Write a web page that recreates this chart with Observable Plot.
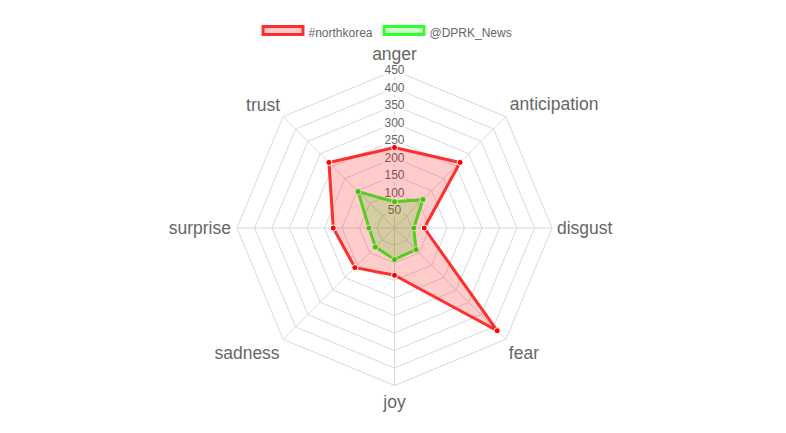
<!DOCTYPE html>
<html>
<head>
<meta charset="utf-8">
<script src="https://cdn.jsdelivr.net/npm/d3@7"></script>
<script src="https://cdn.jsdelivr.net/npm/@observablehq/plot@0.6"></script>
<style>
  html, body { margin: 0; padding: 0; background: #fff; }
  #wrap { position: relative; width: 786px; height: 433px; font-family: "Liberation Sans", Arial, sans-serif; }
  #legend { position: absolute; left: 0; top: 0; }
  #chart { position: absolute; left: 0; top: 0; }
</style>
</head>
<body>
<div id="wrap">
  <div id="chart"></div>
  <svg id="legend" width="786" height="45"></svg>
</div>
<script>
const categories = ["anger", "anticipation", "disgust", "fear", "joy", "sadness", "surprise", "trust"];
const northkorea = [230, 265, 85, 415, 135, 160, 175, 265];
const dprkNews = [75, 115, 55, 87, 90, 77, 73, 147];
const tickValues = [50, 100, 150, 200, 250, 300, 350, 400, 450];
const seriesNames = ["#northkorea", "@DPRK_News"];
const maxValue = 450;

const n = categories.length;
const ang = i => (i / n) * 2 * Math.PI;
const px = (i, r) => r * Math.sin(ang(i));
const py = (i, r) => r * Math.cos(ang(i));

// grid rings
const ringData = [];
for (const t of tickValues) {
  for (let i = 0; i <= n; i++) ringData.push({ring: t, x: px(i % n, t), y: py(i % n, t)});
}
const spokes = categories.map((c, i) => ({x1: 0, y1: 0, x2: px(i, maxValue), y2: py(i, maxValue)}));

const toPts = vals => vals.map((v, i) => ({cat: categories[i], x: px(i, v), y: py(i, v)}));
const nkPts = toPts(northkorea);
const dpPts = toPts(dprkNews);

const FONT = "'Liberation Sans', Arial, sans-serif";
const labelCfg = [
  {anchor: "middle", dx: 0, dy: -11},
  {anchor: "start", dx: 4, dy: -7},
  {anchor: "start", dx: 5, dy: 6},
  {anchor: "start", dx: 3, dy: 20},
  {anchor: "middle", dx: 0, dy: 22},
  {anchor: "end", dx: -3.5, dy: 20},
  {anchor: "end", dx: -6, dy: 6},
  {anchor: "end", dx: -3, dy: -6}
];
const labelMarks = categories.map((c, i) => Plot.text([c], {
  x: () => px(i, maxValue), y: () => py(i, maxValue), text: d => d,
  textAnchor: labelCfg[i].anchor, dx: labelCfg[i].dx, dy: labelCfg[i].dy,
  lineAnchor: "bottom", fontSize: 17.5, fill: "#666", fontFamily: FONT
}));

const cx = 394, cy = 227.5, R = 157.5;
const chart = Plot.plot({
  width: 786, height: 433, margin: 0,
  x: {type: "linear", domain: [-maxValue, maxValue], range: [cx - R, cx + R], axis: null},
  y: {type: "linear", domain: [-maxValue, maxValue], range: [cy + R, cy - R], axis: null},
  style: {fontFamily: FONT, background: "white"},
  marks: [
    Plot.line(ringData, {x: "x", y: "y", z: "ring", stroke: "#d9d9d9", strokeWidth: 1}),
    Plot.link(spokes, {x1: "x1", y1: "y1", x2: "x2", y2: "y2", stroke: "#d9d9d9", strokeWidth: 1}),
    Plot.text(tickValues, {x: 0, y: d => d, text: d => String(d), fontSize: 12, fill: "#666",
      stroke: "white", strokeOpacity: 0.85, strokeWidth: 6, strokeLinejoin: "round", fontFamily: FONT}),
    ...labelMarks,
    // @DPRK_News first (underneath)
    Plot.line(dpPts, {x: "x", y: "y", curve: "linear-closed", fill: "rgb(0,255,0)", fillOpacity: 0.2, stroke: "rgb(0,255,0)", strokeOpacity: 0.8, strokeWidth: 3, strokeLinejoin: "miter"}),
    Plot.dot(dpPts, {x: "x", y: "y", r: 3, fill: "rgb(0,255,0)", stroke: "white", strokeWidth: 1}),
    // #northkorea on top
    Plot.line(nkPts, {x: "x", y: "y", curve: "linear-closed", fill: "rgb(255,0,0)", fillOpacity: 0.2, stroke: "rgb(255,0,0)", strokeOpacity: 0.8, strokeWidth: 3, strokeLinejoin: "miter"}),
    Plot.dot(nkPts, {x: "x", y: "y", r: 3, fill: "rgb(255,0,0)", stroke: "white", strokeWidth: 1})
  ]
});
document.getElementById("chart").appendChild(chart);

// legend
const leg = d3.select("#legend");
const legItems = [
  {name: seriesNames[0], fill: "rgba(255,0,0,0.2)", stroke: "rgba(255,0,0,0.8)", x: 263},
  {name: seriesNames[1], fill: "rgba(0,255,0,0.2)", stroke: "rgba(0,255,0,0.8)", x: 384}
];
for (const it of legItems) {
  leg.append("rect").attr("x", it.x).attr("y", 26.5).attr("width", 40).attr("height", 8)
    .attr("fill", it.fill).attr("stroke", it.stroke).attr("stroke-width", 3);
  leg.append("text").attr("x", it.x + 45.5).attr("y", 36.5).attr("font-size", 12)
    .attr("font-family", FONT).attr("fill", "#666").text(it.name);
}
</script>
</body>
</html>
